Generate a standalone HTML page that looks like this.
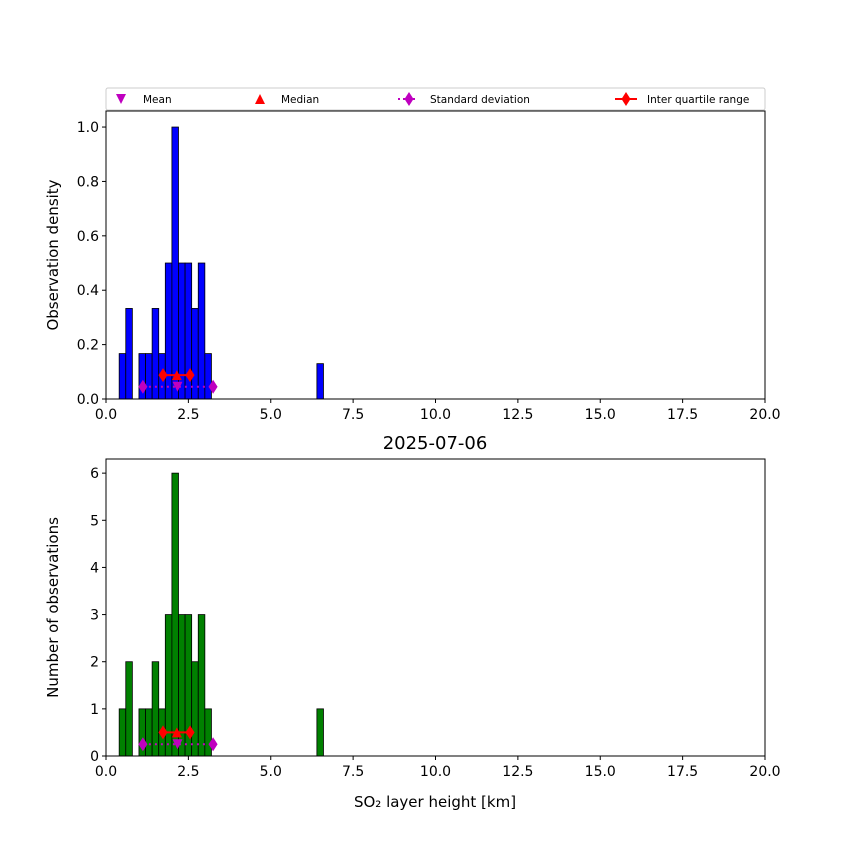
<!DOCTYPE html>
<html><head><meta charset="utf-8"><style>
body{margin:0;background:#fff}
text{font-family:"DejaVu Sans","Liberation Sans",sans-serif;fill:#000}
</style></head><body>
<svg id="c" width="850" height="850" xmlns="http://www.w3.org/2000/svg"></svg>
<script>
const binStarts=[0.4,0.6,1.0,1.2,1.4,1.6,1.8,2.0,2.2,2.4,2.6,2.8,3.0,6.4];
const counts=[1,2,1,1,2,1,3,6,3,3,2,3,1,1];
const densities=[0.167,0.333,0.167,0.167,0.333,0.167,0.5,1.0,0.5,0.5,0.333,0.5,0.167,0.13];
const binWidth=0.2;
const meanVal=2.17, medianVal=2.15;
const stdLo=1.12, stdHi=3.25;
const iqrLo=1.73, iqrHi=2.55;
const xTicks=[0,2.5,5,7.5,10,12.5,15,17.5,20];
const xTickLabels=["0.0","2.5","5.0","7.5","10.0","12.5","15.0","17.5","20.0"];
const topYTicks=[0,0.2,0.4,0.6,0.8,1.0];
const botYTicks=[0,1,2,3,4,5,6];

const svg=document.getElementById('c');
const NS='http://www.w3.org/2000/svg';
function mk(t,a,txt){const e=document.createElementNS(NS,t);for(const k in a)e.setAttribute(k,a[k]);if(txt!==undefined)e.textContent=txt;svg.appendChild(e);return e;}
const L=106,R=765;
const xs=v=>L+v/20*(R-L);

function panel(top,bottom,ymax,vals,color,yTicks,fmt,ylabel,statY1,statY2,prefix){
  const ys=v=>bottom-v/ymax*(bottom-top);
  vals.forEach((v,i)=>{
    const r=mk('rect',{x:xs(binStarts[i]),y:ys(v),width:xs(binWidth)-xs(0),height:bottom-ys(v),fill:color,stroke:'#000','stroke-width':0.8});
    
    
  });
  let e=mk('line',{x1:xs(stdLo),x2:xs(stdHi),y1:ys(statY1),y2:ys(statY1),stroke:'#bf00bf','stroke-width':2,'stroke-dasharray':'2,4'});
  
  [stdLo,stdHi].forEach(v=>{const x=xs(v),y=ys(statY1);const d=mk('polygon',{points:`${x},${y-7} ${x+4.5},${y} ${x},${y+7} ${x-4.5},${y}`,fill:'#bf00bf'});});
  {const x=xs(meanVal),y=ys(statY1);const d=mk('polygon',{points:`${x-5},${y-5} ${x+5},${y-5} ${x},${y+5}`,fill:'#bf00bf'});}
  e=mk('line',{x1:xs(iqrLo),x2:xs(iqrHi),y1:ys(statY2),y2:ys(statY2),stroke:'red','stroke-width':2});
  
  [iqrLo,iqrHi].forEach(v=>{const x=xs(v),y=ys(statY2);const d=mk('polygon',{points:`${x},${y-7} ${x+4.5},${y} ${x},${y+7} ${x-4.5},${y}`,fill:'red'});});
  {const x=xs(medianVal),y=ys(statY2);const d=mk('polygon',{points:`${x-5},${y+5} ${x+5},${y+5} ${x},${y-5}`,fill:'red'});}
  e=mk('rect',{x:L,y:top,width:R-L,height:bottom-top,fill:'none',stroke:'#000','stroke-width':1});
  
  xTicks.forEach((v,i)=>{mk('line',{x1:xs(v),x2:xs(v),y1:bottom,y2:bottom+4,stroke:'#000'});
    const t=mk('text',{x:xs(v),y:bottom+20,'text-anchor':'middle','font-size':14},xTickLabels[i]);
    });
  yTicks.forEach(v=>{mk('line',{x1:L-4,x2:L,y1:ys(v),y2:ys(v),stroke:'#000'});
    const t=mk('text',{x:L-7,y:ys(v)+5,'text-anchor':'end','font-size':14},fmt(v));
    });
  const yl=mk('text',{x:0,y:0,'text-anchor':'middle','font-size':15,transform:`translate(58,${(top+bottom)/2}) rotate(-90)`},ylabel);
  
}
panel(111,399,1.059,densities,'#0000ff',topYTicks,v=>v.toFixed(1),'Observation density',0.045,0.088,'density');
panel(459,756,6.3,counts,'#008000',botYTicks,v=>String(v),'Number of observations',0.25,0.5,'count');
let t=mk('text',{x:435,y:449,'text-anchor':'middle','font-size':18},'2025-07-06');

t=mk('text',{x:435,y:807,'text-anchor':'middle','font-size':15},'SO₂ layer height [km]');

let lg=mk('rect',{x:106,y:88,width:659,height:22,fill:'#fff',stroke:'#ccc',rx:2});

function le(name,x,txt){const g=mk('text',{x:x,y:103,'font-size':10.5},txt);}
mk('polygon',{points:'116,94 126,94 121,104',fill:'#bf00bf'});le('legend-entry-mean',143,'Mean');
mk('polygon',{points:'255,104 265,104 260,94',fill:'red'});le('legend-entry-median',281,'Median');
mk('line',{x1:398,x2:418,y1:99,y2:99,stroke:'#bf00bf','stroke-width':2,'stroke-dasharray':'2,3'});
mk('polygon',{points:'409,92 413.5,99 409,106 404.5,99',fill:'#bf00bf'});le('legend-entry-std',430,'Standard deviation');
mk('line',{x1:615,x2:637,y1:99,y2:99,stroke:'red','stroke-width':2});
mk('polygon',{points:'626,92 630.5,99 626,106 621.5,99',fill:'red'});le('legend-entry-iqr',647,'Inter quartile range');
</script>
</body></html>
